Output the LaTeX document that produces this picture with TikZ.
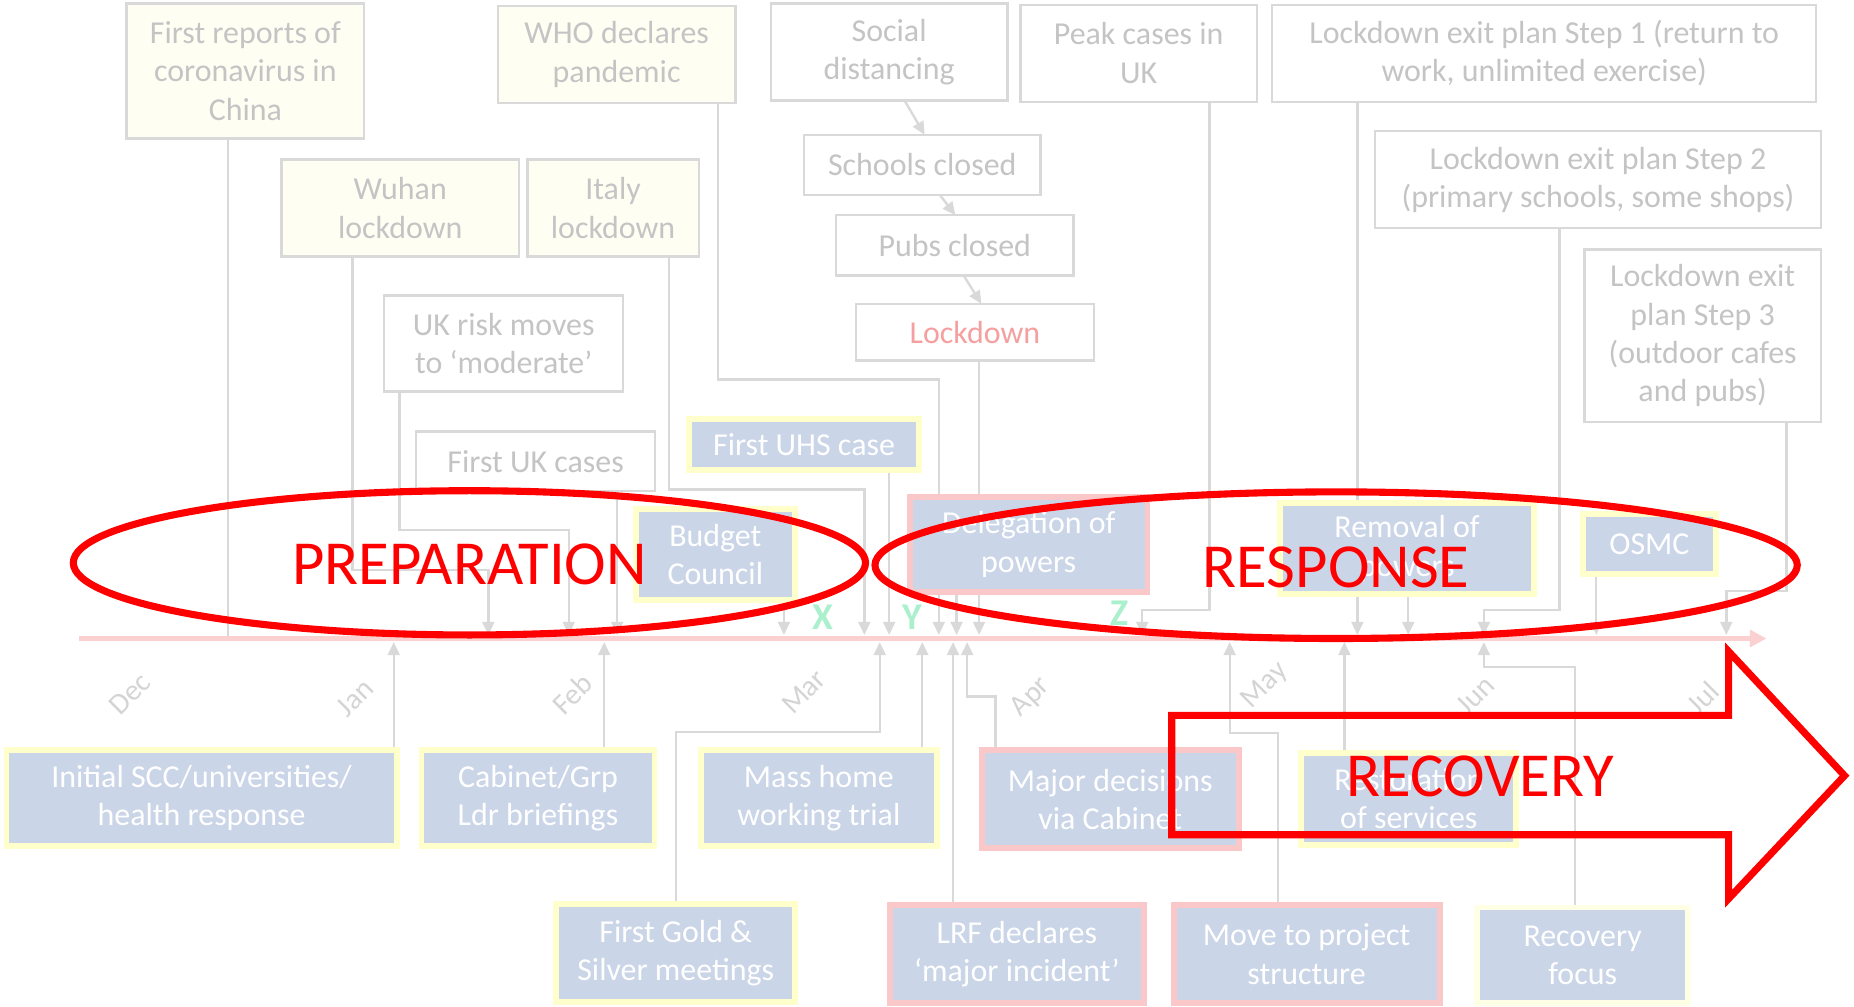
\documentclass[tikz,border=0pt]{standalone}
\usepackage{fontspec}
\setmainfont{Carlito}
\usetikzlibrary{arrows.meta}
\definecolor{bordc}{RGB}{217,217,217}
\definecolor{boxtxt}{RGB}{196,196,196}
\definecolor{creamc}{RGB}{254,254,243}
\definecolor{bluec}{RGB}{203,213,232}
\definecolor{yglow}{RGB}{255,255,204}
\definecolor{rglow}{RGB}{250,200,200}
\definecolor{lockc}{RGB}{245,160,160}
\definecolor{connc}{RGB}{217,217,217}
\definecolor{tlc}{RGB}{250,208,208}
\definecolor{greenc}{RGB}{170,240,205}
\definecolor{monthc}{RGB}{212,212,212}
\definecolor{redc}{RGB}{255,0,0}
\pgfdeclarelayer{bg}
\pgfsetlayers{bg,main}
\begin{document}
\begin{tikzpicture}[x=1pt,y=-1pt,
  txt/.style={font=\fontsize{27}{32.5}\selectfont},
  gbox/.style={draw=bordc,line width=2pt,fill=white,text=boxtxt,align=center,inner sep=0pt,outer sep=0pt,txt},
  bbox/.style={draw=yglow,line width=5pt,fill=bluec,text=white,align=center,inner sep=0pt,outer sep=0pt,txt},
  rbox/.style={bbox,draw=rglow},
  conn/.style={draw=connc,line width=2pt},
  arr/.style={conn,-{Triangle[width=10pt,length=11pt]}},
  month/.style={text=monthc,rotate=45,font=\fontsize{25}{30}\selectfont},
  letter/.style={text=greenc,font=\fontsize{32}{36}\selectfont\bfseries},
  phase/.style={text=redc,font=\fontsize{53}{60}\selectfont},
  redline/.style={draw=redc,line width=6pt}]
\useasboundingbox (0,0) rectangle (1568,851);

% ---- top grey boxes
\node[gbox,fill=creamc,minimum width=201pt,minimum height=114pt] (fr) at (207.5,60) {First reports of\\coronavirus in\\China};
\node[gbox,fill=creamc,minimum width=201pt,minimum height=82pt] (who) at (521.5,46) {WHO declares\\pandemic};
\node[gbox,minimum width=200pt,minimum height=82pt] (sd) at (752,44) {Social\\distancing};
\node[gbox,minimum width=200pt,minimum height=82pt] (peak) at (963,45) {Peak cases in\\UK};
\node[gbox,minimum width=460pt,minimum height=82pt] (s1) at (1306,45) {Lockdown exit plan Step 1 (return to\\work, unlimited exercise)};
\node[gbox,fill=creamc,minimum width=201pt,minimum height=82pt] (wuhan) at (338.5,176) {Wuhan\\lockdown};
\node[gbox,fill=creamc,minimum width=145pt,minimum height=82pt] (italy) at (518.5,176) {Italy\\lockdown};
\node[gbox,minimum width=200pt,minimum height=51pt] (schools) at (780,139.5) {Schools closed};
\node[gbox,minimum width=201pt,minimum height=51pt] (pubs) at (807.5,207.5) {Pubs closed};
\node[gbox,text=lockc,minimum width=201pt,minimum height=48pt] (lockdown) at (824.5,281) {Lockdown};
\node[gbox,minimum width=377pt,minimum height=82pt] (s2) at (1351.5,152) {Lockdown exit plan Step 2\\(primary schools, some shops)};
\node[gbox,minimum width=200pt,minimum height=146pt] (s3) at (1440,284) {Lockdown exit\\plan Step 3\\(outdoor cafes\\and pubs)};
\node[gbox,minimum width=202pt,minimum height=81pt] (ukrisk) at (426,290.5) {UK risk moves\\to ‘moderate’};
\node[gbox,minimum width=202pt,minimum height=50pt] (ukcases) at (453,390) {First UK cases};

% ---- blue boxes above the line
\node[bbox,minimum width=195pt,minimum height=43pt] (uhs) at (680,376) {First UHS case};
\node[bbox,minimum width=135pt,minimum height=77pt] (budget) at (605,469) {Budget\\Council};
\node[rbox,minimum width=201pt,minimum height=80pt] (deleg) at (870,460.5) {Delegation of\\powers};
\node[bbox,minimum width=215pt,minimum height=77pt] (removal) at (1190,464) {Removal of\\powers};
\node[bbox,minimum width=113pt,minimum height=51pt] (osmc) at (1395,460) {OSMC};

% ---- blue boxes below the line
\node[bbox,minimum width=330pt,minimum height=81pt] (initial) at (170.5,675) {Initial SCC/universities/\\health response};
\node[bbox,minimum width=197pt,minimum height=81pt] (cabinet) at (455,675) {Cabinet/Grp\\Ldr briefings};
\node[bbox,minimum width=200pt,minimum height=81pt] (mass) at (692.5,675) {Mass home\\working trial};
\node[rbox,minimum width=217pt,minimum height=83pt] (major) at (939,676) {Major decisions\\via Cabinet};
\node[bbox,minimum width=182pt,minimum height=78pt] (restor) at (1191.5,675.5) {Restoration\\of services};
\node[bbox,minimum width=202pt,minimum height=83pt] (gold) at (571.5,806) {First Gold \&\\Silver meetings};
\node[rbox,minimum width=215pt,minimum height=83pt] (lrf) at (860,807) {LRF declares\\‘major incident’};
\node[rbox,minimum width=225pt,minimum height=83pt] (move) at (1105,807) {Move to project\\structure};
\node[bbox,draw=yglow!50,minimum width=178pt,minimum height=81pt] (recov) at (1338.5,808) {Recovery\\focus};

% ---- timeline ends
\coordinate (tlL) at (67,540);
\coordinate (tlR) at (1494,540);

\begin{pgfonlayer}{bg}
% down connectors
\draw[conn] ([xshift=-14.5pt]fr.south) -- (193,539);
\draw[arr] ([xshift=-40.5pt]wuhan.south) |- (413,482) -- (413,537);
\draw[arr] ([xshift=-88pt]ukrisk.south) |- (481,448) -- (481,537);
\draw[arr] ([xshift=69pt]ukcases.south) -- (522,537);
\draw[arr] ([xshift=47.5pt]italy.south) |- (731,414) -- (731,537);
\draw[arr] ([xshift=85.5pt]who.south) |- (794,321) -- (794,537);
\draw[arr] ([xshift=72pt]uhs.south) -- (752,537);
\draw[arr] ([xshift=58pt]budget.south) -- (663,537);
\draw[arr] ([xshift=-61pt]deleg.south) -- (809,537);
\draw[arr] ([xshift=3.5pt]lockdown.south) -- (828,537);
\draw[arr] ([xshift=60pt]peak.south) |- (966,516) -- (966,537);
\draw[arr] ([xshift=-158pt]s1.south) -- (1148,537);
\draw[arr] ([xshift=1pt]removal.south) -- (1191,537);
\draw[arr] ([xshift=-32.5pt]s2.south) |- (1255,516) -- (1255,537);
\draw[arr] ([xshift=-45pt]osmc.south) -- (1350,537);
\draw[arr] ([xshift=71pt]s3.south) |- (1460,500) -- (1460,537);
% up connectors
\draw[arr] ([xshift=162.5pt]initial.north) -- (333,543);
\draw[arr] ([xshift=56pt]cabinet.north) -- (511,543);
\draw[arr] (gold.north) |- (744,619) -- (744,543);
\draw[arr] ([xshift=87.5pt]mass.north) -- (780,543);
\draw[arr] ([xshift=-54pt]lrf.north) -- (806,543);
\draw[arr] ([xshift=-97pt]major.north) |- (818,589) -- (818,543);
\draw[arr] ([xshift=-24pt]move.north) |- (1040,620) -- (1040,543);
\draw[arr] ([xshift=-54.5pt]restor.north) -- (1137,543);
\draw[arr] ([xshift=-6.5pt]recov.north) |- (1255,564) -- (1255,543);
% timeline
\draw[draw=tlc,line width=4pt,-{Triangle[width=14pt,length=14pt]}] (tlL) -- (tlR);
\end{pgfonlayer}

% chain arrows
\draw[arr] ([xshift=13pt]sd.south) -- ([xshift=2pt]schools.north);
\draw[arr] ([xshift=15pt]schools.south) -- ([xshift=0.5pt]pubs.north);
\draw[arr] ([xshift=7.5pt]pubs.south) -- ([xshift=5.5pt]lockdown.north);

% months
\node[month] (mdec) at (110,587) {Dec};
\node[month] (mjan) at (300,590) {Jan};
\node[month] (mfeb) at (484,587) {Feb};
\node[month] (mmar) at (680,585) {Mar};
\node[month] (mapr) at (872,590) {Apr};
\node[month] (mmay) at (1070,580) {May};
\node[month] (mjun) at (1248,588) {Jun};
\node[month] (mjul) at (1440,590) {Jul};

% letters
\node[letter] (lx) at (696,522) {X};
\node[letter] (ly) at (772,522) {Y};
\node[letter] (lz) at (947,519) {Z};

% red overlays
\draw[redline] (397,476) ellipse [x radius=335, y radius=61];
\node[phase] (prep) at (397,477) {PREPARATION};
\draw[redline] (1130,478) ellipse [x radius=390, y radius=62];
\node[phase] (resp) at (1130,480) {RESPONSE};
\draw[redline] (991,605) -- (1462,605) -- (1462,551) -- (1560,656) -- (1462,760) -- (1462,706) -- (991,706) -- cycle;
\node[phase] (recv) at (1252,657) {RECOVERY};
\end{tikzpicture}
\end{document}
